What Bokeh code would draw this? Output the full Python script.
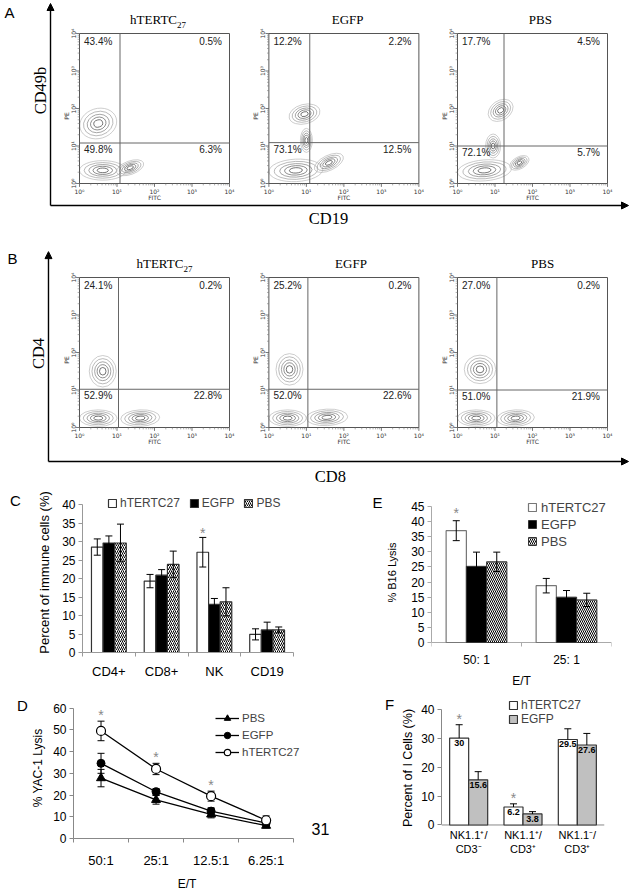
import numpy as np
from bokeh.plotting import figure
from bokeh.models import (ColumnDataSource, Whisker, TeeHead, Legend, LegendItem,
                          FixedTicker, Arrow, NormalHead, Range1d)
from bokeh.layouts import column, row
from bokeh.embed import file_html
from bokeh.resources import INLINE
from bokeh.core.properties import value

SANS = "Liberation Sans"
SERIF = "Liberation Serif"
TINY = "DejaVu Sans"

# ---------------- data ----------------
FLOW_TITLES = ["hTERTC", "EGFP", "PBS"]
FLOW_TITLE_SUB = ["27", "", ""]
FLOW_DECADE_LABELS = ["10\u2070", "10\u00b9", "10\u00b2", "10\u00b3", "10\u2074"]

# Panel A  (CD49b vs CD19) quadrant percentages: upper-left, upper-right, lower-left, lower-right
A_UL = ["43.4%", "12.2%", "17.7%"]
A_UR = ["0.5%", "2.2%", "4.5%"]
A_LL = ["49.8%", "73.1%", "72.1%"]
A_LR = ["6.3%", "12.5%", "5.7%"]
A_GATE_X = [1.08, 1.09, 1.24]     # log10 FITC
A_GATE_Y = [1.08, 1.09, 1.00]     # log10 PE
A_TITLE_X = [2.08, 2.10, 2.21]
# populations: (log FITC centre, log PE centre, half-width, half-height, angle)
A_POP_1 = [(0.50, 1.60, 0.50, 0.40, 0.30), (0.62, 0.35, 0.62, 0.26, 0.00), (1.35, 0.42, 0.38, 0.18, 0.35)]
A_POP_2 = [(0.95, 1.85, 0.42, 0.26, 0.25), (1.00, 1.15, 0.16, 0.32, 0.00), (0.72, 0.35, 0.72, 0.30, 0.05), (1.60, 0.55, 0.42, 0.20, 0.45)]
A_POP_3 = [(1.15, 1.95, 0.36, 0.26, 0.60), (0.95, 1.00, 0.20, 0.32, 0.00), (0.72, 0.35, 0.72, 0.28, 0.08), (1.65, 0.55, 0.28, 0.16, 0.50)]

# Panel B  (CD4 vs CD8)
B_UL = ["24.1%", "25.2%", "27.0%"]
B_UR = ["0.2%", "0.2%", "0.2%"]
B_LL = ["52.9%", "52.0%", "51.0%"]
B_LR = ["22.8%", "22.6%", "21.9%"]
B_GATE_X = [1.04, 1.04, 1.05]
B_GATE_Y = [1.02, 1.02, 1.00]
B_TITLE_X = [2.25, 2.19, 2.27]
B_POP_1 = [(0.62, 1.50, 0.36, 0.42, 0.00), (0.50, 0.25, 0.50, 0.22, 0.00), (1.62, 0.25, 0.52, 0.22, 0.05)]
B_POP_2 = [(0.55, 1.55, 0.36, 0.42, 0.00), (0.50, 0.25, 0.50, 0.22, 0.00), (1.55, 0.27, 0.55, 0.22, 0.05)]
B_POP_3 = [(0.60, 1.55, 0.42, 0.38, 0.00), (0.50, 0.25, 0.50, 0.22, 0.00), (1.55, 0.25, 0.50, 0.22, 0.05)]

# Panel C
C_CATS = ["CD4+", "CD8+", "NK", "CD19"]
C_HT = [28.5, 19.3, 27.1, 4.9]
C_HT_ERR = [2.2, 1.8, 4.0, 1.5]
C_EGFP = [29.6, 20.9, 13.0, 6.1]
C_EGFP_ERR = [1.9, 1.5, 1.6, 2.1]
C_PBS = [29.6, 23.8, 13.7, 6.1]
C_PBS_ERR = [5.1, 3.6, 3.8, 0.8]
C_STAR = [False, False, True, False]

# Panel D
D_CATS = ["50:1", "25:1", "12.5:1", "6.25:1"]
D_PBS = [27.8, 17.8, 11.1, 5.9]
D_PBS_ERR = [4.0, 2.0, 1.6, 1.0]
D_EGFP = [34.6, 21.5, 12.6, 7.1]
D_EGFP_ERR = [4.6, 1.5, 1.5, 1.2]
D_HT = [49.5, 32.0, 19.5, 8.4]
D_HT_ERR = [4.5, 2.6, 2.3, 2.0]
D_STAR = [True, True, True, False]

# Panel E
E_CATS = ["50: 1", "25: 1"]
E_HT = [37.0, 18.8]
E_HT_ERR = [3.3, 2.4]
E_EGFP = [25.2, 15.0]
E_EGFP_ERR = [4.7, 2.2]
E_PBS = [26.7, 14.1]
E_PBS_ERR = [3.2, 2.2]
E_STAR = [True, False]

# Panel F
F_CATS = ["NK1.1\u207a/\nCD3\u207b", "NK1.1\u207a/\nCD3\u207a", "NK1.1\u207b/\nCD3\u207a"]
F_HT = [30.0, 6.2, 29.5]
F_HT_ERR = [4.6, 1.1, 3.7]
F_EGFP = [15.6, 3.8, 27.6]
F_EGFP_ERR = [2.8, 0.8, 4.0]
F_STAR = [True, True, False]

PAGE_NUMBER = "31"

# ---------------- layout constants ----------------
W = 635
PXD = 37.5                       # pixels per decade in flow plots
OFFS = np.array([0.0, 5.05, 10.08])
LEVELS = [1.0, 0.8, 0.6, 0.42, 0.24]
LEVEL_COLS = ["#b8b8b8", "#9c9c9c", "#808080", "#5e5e5e", "#3a3a3a"]


def flow_panel(height, y_end, ul, ur, ll, lr, gx, gy, title_x, pops,
               letter, letter_xy, xlab, xlab_xy, ylab, ylab_xy, fx, fy, ftop):
    x0 = -79.0 / PXD
    p = figure(width=W, height=height, x_range=Range1d(x0, x0 + W / PXD),
               y_range=Range1d(y_end - height / PXD, y_end),
               toolbar_location=None, output_backend="svg",
               x_axis_location=None, y_axis_location=None, min_border=0)
    p.grid.visible = False
    p.outline_line_color = None
    gx = np.array(gx)
    gy = np.array(gy)
    # contour rings of each population
    ex, ey, ew, eh, ea, ec = [], [], [], [], [], []
    for k, pl in enumerate(pops):
        for (cx, cy, rx, ry, ang) in pl:
            for s, c in zip(LEVELS, LEVEL_COLS):
                ex.append(OFFS[k] + cx); ey.append(cy)
                ew.append(2 * rx * s); eh.append(2 * ry * s)
                ea.append(ang); ec.append(c)
    p.ellipse(x=ex, y=ey, width=ew, height=eh, angle=ea, fill_color=None,
              line_color=ec, line_width=0.7)
    # plot boxes and quadrant gates
    p.quad(left=OFFS, right=OFFS + 4, bottom=0, top=4, fill_color=None,
           line_color="#555555", line_width=1)
    p.segment(x0=OFFS + gx, y0=0, x1=OFFS + gx, y1=4, line_color="#666666", line_width=1)
    p.segment(x0=OFFS, y0=gy, x1=OFFS + 4, y1=gy, line_color="#666666", line_width=1)
    # log ticks
    dec = np.arange(5)
    minor = np.concatenate([d + np.log10(np.arange(2, 10)) for d in range(4)])
    tx = np.concatenate([o + dec for o in OFFS])
    mx = np.concatenate([o + minor for o in OFFS])
    p.segment(x0=tx, y0=0, x1=tx, y1=-0.09, line_color="#555555", line_width=0.8)
    p.segment(x0=mx, y0=0, x1=mx, y1=-0.05, line_color="#777777", line_width=0.6)
    lx = np.repeat(OFFS, 5)
    ly = np.tile(dec, 3)
    mlx = np.repeat(OFFS, len(minor))
    mly = np.tile(minor, 3)
    p.segment(x0=lx, y0=ly, x1=lx - 0.09, y1=ly, line_color="#555555", line_width=0.8)
    p.segment(x0=mlx, y0=mly, x1=mlx - 0.05, y1=mly, line_color="#777777", line_width=0.6)
    tick_kw = dict(text_font=value(TINY), text_font_size="6px", text_color="#333333",
                   text_align="center", text_baseline="middle")
    p.text(x=tx, y=-0.2, text=FLOW_DECADE_LABELS * 3, **tick_kw)
    p.text(x=lx - 0.17, y=ly, text=FLOW_DECADE_LABELS * 3, angle=np.pi / 2, **tick_kw)
    p.text(x=OFFS + 2, y=-0.37, text=["FITC"] * 3, **tick_kw)
    p.text(x=OFFS - 0.36, y=1.8, text=["PE"] * 3, angle=np.pi / 2, **tick_kw)
    # quadrant percentages
    pct_kw = dict(text_font=value(SANS), text_font_size="10px", text_baseline="middle",
                  text_color="#222222")
    p.text(x=OFFS + 0.12, y=3.78, text=ul, text_align="left", **pct_kw)
    p.text(x=OFFS + 3.8, y=3.78, text=ur, text_align="right", **pct_kw)
    p.text(x=OFFS + 0.12, y=gy - 0.17, text=ll, text_align="left", **pct_kw)
    p.text(x=OFFS + 3.8, y=gy - 0.17, text=lr, text_align="right", **pct_kw)
    # titles
    ttl_kw = dict(text_font=value(SERIF), text_baseline="middle", text_color="black")
    for k in range(3):
        cx = OFFS[k] + title_x[k]
        if FLOW_TITLE_SUB[k]:
            p.text(x=[cx + 0.52], y=[4.37], text=[FLOW_TITLES[k]], text_align="right",
                   text_font_size="13px", **ttl_kw)
            p.text(x=[cx + 0.52], y=[4.24], text=[FLOW_TITLE_SUB[k]], text_align="left",
                   text_font_size="9px", **ttl_kw)
        else:
            p.text(x=[cx], y=[4.37], text=[FLOW_TITLES[k]], text_align="center",
                   text_font_size="13px", **ttl_kw)
    # surrounding arrow axes
    head = dict(size=7, fill_color="black", line_color="black")
    p.add_layout(Arrow(end=NormalHead(**head), x_start=fx, y_start=fy, x_end=fx, y_end=ftop,
                       line_width=1.4, line_color="black"))
    p.add_layout(Arrow(end=NormalHead(**head), x_start=fx, y_start=fy, x_end=14.64, y_end=fy,
                       line_width=1.4, line_color="black"))
    p.text(x=[letter_xy[0]], y=[letter_xy[1]], text=[letter], text_font=value(SANS),
           text_font_size="15px", text_align="left", text_baseline="middle")
    p.text(x=[xlab_xy[0]], y=[xlab_xy[1]], text=[xlab], text_font=value(SERIF),
           text_font_size="16.5px", text_align="center", text_baseline="middle")
    p.text(x=[ylab_xy[0]], y=[ylab_xy[1]], text=[ylab], text_font=value(SERIF),
           text_font_size="16.5px", text_align="center", text_baseline="middle", angle=np.pi / 2)
    return p


pA = flow_panel(232, 183 / PXD, A_UL, A_UR, A_LL, A_LR, A_GATE_X, A_GATE_Y, A_TITLE_X,
                [A_POP_1, A_POP_2, A_POP_3], "A", (-2.0, 4.547), "CD19", (6.64, -0.93),
                "CD49b", (-1.04, 2.48), -0.773, -0.587, 4.8)
pB = flow_panel(254, 195 / PXD, B_UL, B_UR, B_LL, B_LR, B_GATE_X, B_GATE_Y, B_TITLE_X,
                [B_POP_1, B_POP_2, B_POP_3], "B", (-1.92, 4.507), "CD8", (6.69, -1.31),
                "CD4", (-1.093, 1.973), -0.827, -0.907, 4.69)

# ---------------- bar / line charts ----------------
ROW1_H, ROW1_BT, ROW1_BB = 211, 6, 45     # rows share frame top / bottom
ROW2_H, ROW2_BT, ROW2_BB = 196, 0, 50


def chart(w, h, xr, yr, bl, br, bt, bb):
    p = figure(width=w, height=h, x_range=Range1d(*xr), y_range=Range1d(*yr),
               toolbar_location=None, output_backend="svg",
               min_border_left=bl, min_border_right=br, min_border_top=bt, min_border_bottom=bb)
    p.xgrid.visible = False
    p.ygrid.visible = False
    p.outline_line_color = None
    return p


def gutter(w, h, x_left, bt, bb, frame_top, frame_bottom):
    # narrow strip carrying panel letters; coordinates follow the page pixels
    p = figure(width=w, height=h, x_range=Range1d(x_left, x_left + w),
               y_range=Range1d(frame_bottom, frame_top), toolbar_location=None,
               output_backend="svg", x_axis_location=None, y_axis_location=None,
               min_border_left=0, min_border_right=0, min_border_top=bt, min_border_bottom=bb)
    p.grid.visible = False
    p.outline_line_color = None
    return p


def style(p, cats, yticks, axis_color, tick_size, cat_size, cat_standoff,
          ylab, ylab_size, ylab_standoff, xlab=None, xlab_standoff=4, tick_standoff=3):
    n = len(cats)
    xa = p.xaxis[0]
    ya = p.yaxis[0]
    xa.ticker = FixedTicker(ticks=[i + 0.5 for i in range(n)], minor_ticks=list(range(n + 1)))
    xa.major_label_overrides = {i + 0.5: c for i, c in enumerate(cats)}
    xa.bounds = (0, n)
    xa.major_tick_out = 0
    xa.major_tick_in = 0
    xa.minor_tick_out = 4
    xa.minor_tick_in = 0
    xa.major_label_standoff = cat_standoff
    xa.major_label_text_font_size = cat_size
    ya.ticker = FixedTicker(ticks=yticks, minor_ticks=[])
    ya.bounds = (yticks[0], yticks[-1])
    ya.major_tick_out = 4
    ya.major_tick_in = 0
    ya.major_label_standoff = tick_standoff
    ya.major_label_text_font_size = tick_size
    for ax in (xa, ya):
        ax.axis_line_color = axis_color
        ax.major_tick_line_color = axis_color
        ax.minor_tick_line_color = axis_color
        ax.major_label_text_font = SANS
        ax.major_label_text_color = "black"
        ax.axis_label_text_font = SANS
        ax.axis_label_text_font_style = "normal"
        ax.axis_label_text_color = "black"
    ya.axis_label = ylab
    ya.axis_label_text_font_size = ylab_size
    ya.axis_label_standoff = ylab_standoff
    if xlab:
        xa.axis_label = xlab
        xa.axis_label_text_font_size = "12px"
        xa.axis_label_standoff = xlab_standoff


def floating_baseline(p, n, scale, color, ticks=True):
    # the x axis of this panel sits above the shared frame bottom: draw its line at y = 0
    xa = p.xaxis[0]
    xa.axis_line_color = None
    xa.minor_tick_line_color = None
    xa.major_tick_line_color = None
    xa.minor_tick_out = 0
    p.segment(x0=[0], y0=[0], x1=[n], y1=[0], line_color=color, line_width=1)
    if ticks:
        b = np.arange(n + 1)
        p.segment(x0=b, y0=0, x1=b, y1=-4.0 / scale, line_color=color, line_width=1)


def whisker(p, x, val, err, both=True, level="annotation", cap=7):
    x = np.asarray(x, dtype=float)
    val = np.asarray(val, dtype=float)
    err = np.asarray(err, dtype=float)
    src = ColumnDataSource(dict(x=x, upper=val + err, lower=(val - err) if both else val))
    w = Whisker(source=src, base="x", upper="upper", lower="lower", line_color="black",
                line_width=1, level=level,
                upper_head=TeeHead(size=cap, line_color="black", line_width=1),
                lower_head=TeeHead(size=cap, line_color="black", line_width=1) if both else None)
    p.add_layout(w)


def stars(p, x, top, flags, dy, size="14px"):
    xs = [xx for xx, f in zip(x, flags) if f]
    ys = [t + dy for t, f in zip(top, flags) if f]
    p.text(x=xs, y=ys, text=["*"] * len(xs), text_font=value(SANS), text_font_size=size,
           text_color="#888888", text_align="center", text_baseline="middle")


def letter(p, txt, x, y, size="15px"):
    p.text(x=[x], y=[y], text=[txt], text_font=value(SANS), text_font_size=size,
           text_align="center", text_baseline="middle", text_color="black")


# ---- row 1 : C and E  (page y 486..697, frames 492..652) ----
gC = gutter(28, ROW1_H, 0, ROW1_BT, ROW1_BB, 492, 652)
letter(gC, "C", 15, 500)

pC = chart(272, ROW1_H, (0, len(C_CATS)), (0, 40 + 12 / 3.7), 54, 7, ROW1_BT, ROW1_BB)
style(pC, C_CATS, list(range(0, 41, 5)), "#999999", "12px", "13px", 7,
      "Percent of immune cells (%)", "13px", 7)
xc = np.arange(len(C_CATS)) + 0.5
bw = 0.22
c1 = pC.vbar(x=xc - bw, top=C_HT, width=bw, fill_color="white", line_color="#333333", line_width=1.2)
c2 = pC.vbar(x=xc, top=C_EGFP, width=bw, fill_color="black", line_color="#333333", line_width=1.2)
c3 = pC.vbar(x=xc + bw, top=C_PBS, width=bw, fill_color="white", line_color="#333333", line_width=1.2,
             hatch_pattern="right_diagonal_line", hatch_color="black", hatch_scale=4, hatch_weight=1)
whisker(pC, xc - bw, C_HT, C_HT_ERR)
whisker(pC, xc, C_EGFP, C_EGFP_ERR)
whisker(pC, xc + bw, C_PBS, C_PBS_ERR)
stars(pC, xc - bw, np.array(C_HT) + np.array(C_HT_ERR), C_STAR, 1.3)
legC = Legend(items=[LegendItem(label="hTERTC27", renderers=[c1]),
                     LegendItem(label="EGFP", renderers=[c2]),
                     LegendItem(label="PBS", renderers=[c3])],
              orientation="horizontal", location=(25, 142), border_line_color=None,
              background_fill_alpha=0, glyph_width=10, glyph_height=10, label_standoff=3,
              spacing=9, padding=0, margin=0, label_height=12,
              label_text_font=SANS, label_text_font_size="12px")
pC.add_layout(legC)

gE = gutter(83, ROW1_H, 300, ROW1_BT, ROW1_BB, 492, 652)
letter(gE, "E", 377, 502)

E_SCALE = 136 / 45.0
pE = chart(252, ROW1_H, (0, len(E_CATS)), (-10 / E_SCALE, 45 + 14 / E_SCALE), 44, 24, ROW1_BT, ROW1_BB)
style(pE, E_CATS, list(range(0, 46, 5)), "#aaaaaa", "12px", "12px", 0,
      "% B16 Lysis", "11px", 10, xlab="E/T", xlab_standoff=4)
floating_baseline(pE, len(E_CATS), E_SCALE, "#aaaaaa")
xe = np.arange(len(E_CATS)) + 0.5
bwe = 0.225
e1 = pE.vbar(x=xe - bwe, top=E_HT, width=bwe, fill_color="white", line_color="#777777", line_width=1.2)
e2 = pE.vbar(x=xe, top=E_EGFP, width=bwe, fill_color="black", line_color="#333333", line_width=1)
e3 = pE.vbar(x=xe + bwe, top=E_PBS, width=bwe, fill_color="white", line_color="#333333", line_width=1,
             hatch_pattern="left_diagonal_line", hatch_color="black", hatch_scale=4, hatch_weight=1)
whisker(pE, xe - bwe, E_HT, E_HT_ERR)
whisker(pE, xe, E_EGFP, E_EGFP_ERR)
whisker(pE, xe + bwe, E_PBS, E_PBS_ERR)
stars(pE, xe - bwe, np.array(E_HT) + np.array(E_HT_ERR), E_STAR, 2.6)
legE = Legend(items=[LegendItem(label="hTERTC27", renderers=[e1]),
                     LegendItem(label="EGFP", renderers=[e2]),
                     LegendItem(label="PBS", renderers=[e3])],
              location=(96, 103), border_line_color=None, background_fill_alpha=0,
              glyph_width=10, glyph_height=10, label_standoff=4, spacing=1, padding=0,
              margin=0, label_height=16, label_text_font=SANS, label_text_font_size="13px")
pE.add_layout(legE)

# ---- row 2 : D and F  (page y 697..893, frames 697..843) ----
gD = gutter(28, ROW2_H, 0, ROW2_BT, ROW2_BB, 697, 843)
letter(gD, "D", 22, 705)

D_SCALE = 135 / 60.0
D_CAT_PX = 225 / len(D_CATS)
pD = chart(272, ROW2_H, (0, len(D_CATS) + 7 / D_CAT_PX), (0, 60 + 11 / D_SCALE), 40, 0, ROW2_BT, ROW2_BB)
style(pD, D_CATS, list(range(0, 61, 10)), "#888888", "12px", "13px", 10,
      "% YAC-1 Lysis", "12px", 5, xlab="E/T", xlab_standoff=6)
xd = np.arange(len(D_CATS)) + 0.5
whisker(pD, xd, D_PBS, D_PBS_ERR, level="underlay")
whisker(pD, xd, D_EGFP, D_EGFP_ERR, level="underlay")
whisker(pD, xd, D_HT, D_HT_ERR, level="underlay")
l1 = pD.line(xd, D_PBS, line_color="black", line_width=1.3)
s1 = pD.scatter(xd, D_PBS, marker="triangle", size=9, fill_color="black", line_color="black")
l2 = pD.line(xd, D_EGFP, line_color="black", line_width=1.3)
s2 = pD.scatter(xd, D_EGFP, marker="circle", size=8, fill_color="black", line_color="black")
l3 = pD.line(xd, D_HT, line_color="black", line_width=1.3)
s3 = pD.scatter(xd, D_HT, marker="circle", size=9, fill_color="white", line_color="black", line_width=1.2)
stars(pD, xd, np.array(D_HT) + np.array(D_HT_ERR), D_STAR, 3.0)
legD = Legend(items=[LegendItem(label="PBS", renderers=[l1, s1]),
                     LegendItem(label="EGFP", renderers=[l2, s2]),
                     LegendItem(label="hTERTC27", renderers=[l3, s3])],
              location=(142, 78), border_line_color=None, background_fill_alpha=0,
              glyph_width=24, glyph_height=16, label_standoff=3, spacing=1, padding=0,
              margin=0, label_height=16, label_text_font=SANS, label_text_font_size="11.5px")
pD.add_layout(legD)

gF = gutter(98, ROW2_H, 300, ROW2_BT, ROW2_BB, 697, 843)
letter(gF, "F", 389, 704)
letter(gF, PAGE_NUMBER, 320, 833, size="16px")

F_SCALE = 3.0
pF = chart(237, ROW2_H, (0, len(F_CATS)), (-14 / F_SCALE, 40 + 12 / F_SCALE), 39, 31, ROW2_BT, ROW2_BB)
style(pF, F_CATS, list(range(0, 41, 10)), "#888888", "12px", "11px", -10,
      "Percent of I Cells (%)", "12.5px", 3)
floating_baseline(pF, len(F_CATS), F_SCALE, "#888888", ticks=False)
xf = np.arange(len(F_CATS)) + 0.5
bwf = 0.35
f1 = pF.vbar(x=xf - bwf / 2, top=F_HT, width=bwf, fill_color="white", line_color="#333333", line_width=1.2)
f2 = pF.vbar(x=xf + bwf / 2, top=F_EGFP, width=bwf, fill_color="#c0c0c0", line_color="#333333", line_width=1.2)
whisker(pF, xf - bwf / 2, F_HT, F_HT_ERR, both=False)
whisker(pF, xf + bwf / 2, F_EGFP, F_EGFP_ERR, both=False)
stars(pF, xf - bwf / 2, np.array(F_HT) + np.array(F_HT_ERR), F_STAR, 2.0)
val_kw = dict(text_font=value(SANS), text_font_size="9px", text_font_style="bold",
              text_align="center", text_baseline="top", text_color="black")
pF.text(x=xf - bwf / 2, y=np.array(F_HT) - 0.6, text=[f"{v:g}" for v in F_HT], **val_kw)
pF.text(x=xf + bwf / 2, y=np.array(F_EGFP) - 0.6, text=[f"{v:g}" for v in F_EGFP], **val_kw)
legF = Legend(items=[LegendItem(label="hTERTC27", renderers=[f1]),
                     LegendItem(label="EGFP", renderers=[f2])],
              location=(67, 112), border_line_color=None, background_fill_alpha=0,
              glyph_width=10, glyph_height=10, label_standoff=3, spacing=0, padding=0,
              margin=0, label_height=12, label_text_font=SANS, label_text_font_size="12px")
pF.add_layout(legF)

layout = column(pA, pB, row(gC, pC, gE, pE), row(gD, pD, gF, pF))
open("out.html", "w").write(file_html(layout, INLINE))
